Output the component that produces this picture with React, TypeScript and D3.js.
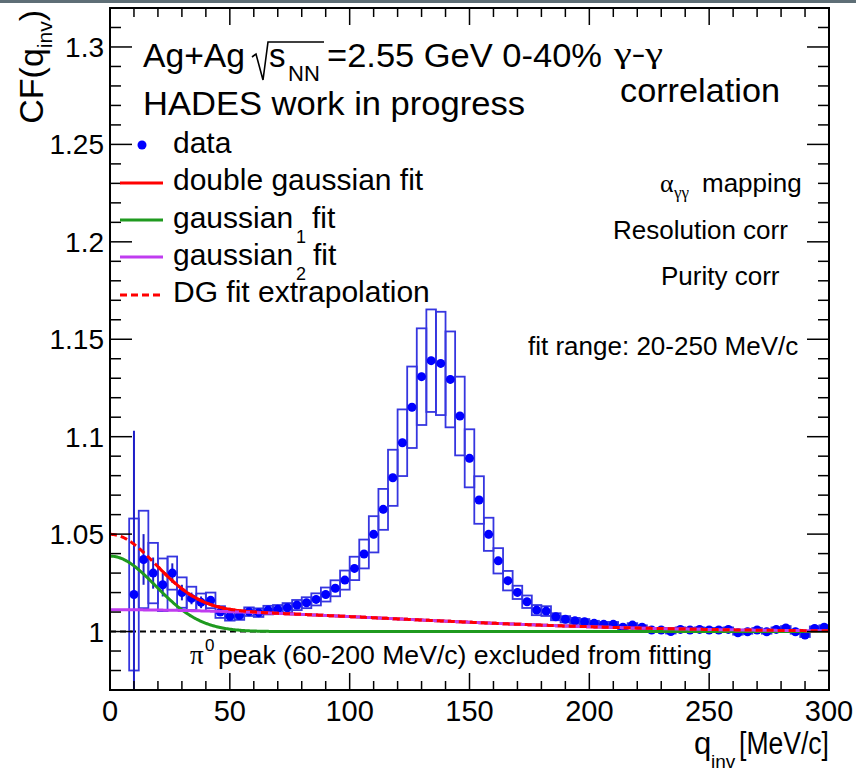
import React from 'react';
import * as d3 from 'd3';

// ---------- data ----------
const qBins = [
  10, 14, 18, 22, 26, 30, 34, 38, 42, 46,
  50, 54, 58, 62, 66, 70, 74, 78, 82, 86,
  90, 94, 98, 102, 106, 110, 114, 118, 122, 126,
  130, 134, 138, 142, 146, 150, 154, 158, 162, 166,
  170, 174, 178, 182, 186, 190, 194, 198, 202, 206,
  210, 214, 218, 222, 226, 230, 234, 238, 242, 246,
  250, 254, 258, 262, 266, 270, 274, 278, 282, 286,
  290, 294, 298,
];
const cfValues = [
  1.019, 1.037, 1.030, 1.024, 1.030, 1.020, 1.017, 1.015, 1.016, 1.010,
  1.0078, 1.0082, 1.0102, 1.0097, 1.011, 1.0114, 1.0122, 1.0136, 1.0148, 1.0165,
  1.019, 1.0222, 1.0264, 1.0324, 1.0398, 1.0499, 1.0627, 1.0789, 1.0969, 1.1151,
  1.1308, 1.139, 1.1376, 1.1294, 1.1106, 1.0889, 1.0675, 1.0499, 1.0363, 1.0261,
  1.0201, 1.0153, 1.011, 1.0105, 1.0076, 1.0063, 1.0055, 1.005, 1.0042, 1.0037,
  1.0037, 1.0022, 1.0033, 1.0022, 1.0008, 1.0008, 1.0, 1.0011, 1.0008, 1.0011,
  1.0008, 1.0008, 1.0011, 0.9994, 0.9999, 1.0008, 0.9999, 1.0011, 1.0018, 0.9999,
  0.9982, 1.0016, 1.0022,
];
const statErr = [
  0.084, 0.013, 0.008, 0.006, 0.005, 0.004, 0.003, 0.003, 0.002, 0.002,
  0.002, 0.002, 0.002, 0.002, 0.002, 0.002, 0.002, 0.002, 0.002, 0.002,
  0.002, 0.002, 0.002, 0.002, 0.002, 0.002, 0.002, 0.002, 0.002, 0.002,
  0.002, 0.002, 0.002, 0.002, 0.002, 0.002, 0.002, 0.002, 0.002, 0.002,
  0.002, 0.002, 0.002, 0.002, 0.002, 0.002, 0.002, 0.002, 0.002, 0.002,
  0.002, 0.002, 0.002, 0.002, 0.002, 0.002, 0.002, 0.002, 0.002, 0.002,
  0.002, 0.002, 0.002, 0.002, 0.002, 0.002, 0.002, 0.002, 0.002, 0.002,
  0.002, 0.002, 0.002,
];
const sysErr = [
  0.039, 0.025, 0.0155, 0.0135, 0.0085, 0.0078, 0.006, 0.0045, 0.004, 0.003,
  0.0022, 0.0022, 0.0022, 0.0022, 0.0022, 0.0022, 0.0024, 0.0026, 0.0028, 0.0031,
  0.0036, 0.0041, 0.0049, 0.006, 0.0074, 0.0093, 0.0105, 0.0144, 0.0171, 0.0209,
  0.0248, 0.0263, 0.0265, 0.0246, 0.0202, 0.0149, 0.0122, 0.0085, 0.0065, 0.005,
  0.0034, 0.0032, 0.0026, 0.0025, 0.0018, 0.0016, 0.0015, 0.0014, 0.0013, 0.0012,
  0.0012, 0.001, 0.001, 0.001, 0.001, 0.001, 0.001, 0.001, 0.001, 0.001,
  0.001, 0.001, 0.001, 0.001, 0.001, 0.001, 0.001, 0.001, 0.001, 0.001,
  0.001, 0.001, 0.001,
];
const binWidth = 4;

// fit parameters (double gaussian)
const gauss1Amp = 0.0387;
const gauss1Sigma = 19;
const gauss2Amp = 0.0112;
const gauss2Sigma = 115;
const fitRangeMin = 20;
const fitRangeMax = 250;

const xTicks = [0, 50, 100, 150, 200, 250, 300];
const xTickLabels = ['0', '50', '100', '150', '200', '250', '300'];
const yTicks = [1, 1.05, 1.1, 1.15, 1.2, 1.25, 1.3];
const yTickLabels = ['1', '1.05', '1.1', '1.15', '1.2', '1.25', '1.3'];

// ---------- layout ----------
const W = 856;
const H = 773;
const X0 = 110;
const X1 = 829;
const Y0 = 8;
const Y1 = 690;
const SANS = "'Liberation Sans', Arial, Helvetica, sans-serif";
const SERIF = "'Liberation Serif', 'DejaVu Serif', Times, serif";
const RED = '#ff0000';
const GREEN = '#1f9a1f';
const VIOLET = '#c03cf0';
const BLUE = '#0000ff';
const BOX = '#3636e0';

const g1 = (q: number) => gauss1Amp * Math.exp(-(q * q) / (2 * gauss1Sigma * gauss1Sigma));
const g2 = (q: number) => gauss2Amp * Math.exp(-(q * q) / (2 * gauss2Sigma * gauss2Sigma));

export default function App() {
  const x = d3.scaleLinear().domain([0, 300]).range([X0, X1]);
  const y = d3.scaleLinear().domain([0.97, 1.32]).range([Y1, Y0]);

  const qFine = d3.range(0, 300.01, 0.5);
  const line = d3
    .line<number>()
    .x((q) => x(q))
    .curve(d3.curveLinear);

  const dgPath = (lo: number, hi: number) =>
    line.y((q) => y(1 + g1(q) + g2(q)))(qFine.filter((q) => q >= lo && q <= hi)) || '';
  const g1Path = line.y((q) => y(1 + g1(q)))(qFine) || '';
  const g2Path = line.y((q) => y(1 + g2(q)))(qFine) || '';

  const xMinor = d3.range(0, 301, 10);
  const yMinor = d3.range(97, 133, 1).map((v) => v / 100);

  const points = qBins.map((q, i) => ({ q, v: cfValues[i], s: statErr[i], sy: sysErr[i] }));

  return (
    <svg
      width={W}
      height={H}
      style={{ position: 'absolute', left: 0, top: 0, display: 'block' }}
      fontFamily={SANS}
    >
      <rect x={0} y={0} width={W} height={H} fill="#ffffff" />
      <rect x={0} y={0} width={W} height={3} fill="#5e6e76" />
      <defs>
        <clipPath id="plotclip">
          <rect x={X0} y={Y0} width={X1 - X0} height={Y1 - Y0} />
        </clipPath>
      </defs>

      <g clipPath="url(#plotclip)">
        {/* reference line at 1 */}
        <line x1={x(0)} x2={x(300)} y1={y(1)} y2={y(1)} stroke="#000" strokeWidth={2} strokeDasharray="6 4" />

        {/* systematic boxes */}
        {points.map((p, i) => (
          <rect
            key={'b' + i}
            x={x(p.q - binWidth / 2)}
            y={y(p.v + p.sy)}
            width={x(p.q + binWidth / 2) - x(p.q - binWidth / 2)}
            height={y(p.v - p.sy) - y(p.v + p.sy)}
            fill="none"
            stroke={BOX}
            strokeWidth={1.8}
          />
        ))}
        {/* statistical error bars */}
        {points.map((p, i) => (
          <line
            key={'e' + i}
            x1={x(p.q)}
            x2={x(p.q)}
            y1={y(p.v + p.s)}
            y2={y(p.v - p.s)}
            stroke="#1e1ec8"
            strokeWidth={2}
          />
        ))}
        {/* markers */}
        {points.map((p, i) => (
          <circle key={'m' + i} cx={x(p.q)} cy={y(p.v)} r={4.5} fill={BLUE} />
        ))}

        {/* fits */}
        <path d={dgPath(fitRangeMin, fitRangeMax)} fill="none" stroke={RED} strokeWidth={3} />
        <path d={g1Path} fill="none" stroke={GREEN} strokeWidth={3} />
        <path d={g2Path} fill="none" stroke={VIOLET} strokeWidth={3} />
        <path d={dgPath(0, 300)} fill="none" stroke={RED} strokeWidth={3} strokeDasharray="7 4" />
      </g>

      {/* frame */}
      <rect x={X0} y={Y0} width={X1 - X0} height={Y1 - Y0} fill="none" stroke="#000" strokeWidth={2} />

      {/* x ticks (bottom + top) */}
      {xMinor.map((q) => {
        const major = q % 50 === 0;
        const len = major ? 17 : 9;
        return (
          <g key={'xt' + q}>
            <line x1={x(q)} x2={x(q)} y1={Y1} y2={Y1 - len} stroke="#000" strokeWidth={1.5} />
            <line x1={x(q)} x2={x(q)} y1={Y0} y2={Y0 + len} stroke="#000" strokeWidth={1.5} />
          </g>
        );
      })}
      {/* y ticks (left + right) */}
      {yMinor.map((v) => {
        const major = Math.round(v * 100) % 5 === 0;
        const len = major ? 22 : 11;
        return (
          <g key={'yt' + v}>
            <line x1={X0} x2={X0 + len} y1={y(v)} y2={y(v)} stroke="#000" strokeWidth={1.5} />
            <line x1={X1} x2={X1 - len} y1={y(v)} y2={y(v)} stroke="#000" strokeWidth={1.5} />
          </g>
        );
      })}

      {/* tick labels */}
      {xTicks.map((t, i) => (
        <text key={'xl' + t} x={x(t)} y={721} fontSize={29} textAnchor="middle" fill="#000">
          {xTickLabels[i]}
        </text>
      ))}
      {yTicks.map((t, i) => (
        <text key={'yl' + t} x={104} y={y(t) + 10} fontSize={28} textAnchor="end" fill="#000">
          {yTickLabels[i]}
        </text>
      ))}

      {/* axis titles */}
      <text x={694} y={754} fontSize={31} fill="#000">q</text>
      <text x={711} y={768} fontSize={19} fill="#000">inv</text>
      <text x={829} y={754} fontSize={31} textAnchor="end" textLength={90} lengthAdjust="spacingAndGlyphs" fill="#000">
        [MeV/c]
      </text>
      <text transform="translate(43,10) rotate(-90)" fontSize={34} textAnchor="end" fill="#000">
        CF(q
        <tspan fontSize={21} dy={9}>inv</tspan>
        <tspan dy={-9}>)</tspan>
      </text>

      {/* header */}
      <text x={143} y={67} fontSize={33} textLength={102} lengthAdjust="spacingAndGlyphs">Ag+Ag</text>
      <path d="M 252 57 L 256 54 L 263 80 L 268 42 L 324 42" fill="none" stroke="#000" strokeWidth={1.6} />
      <text x={269} y={67} fontSize={33}>s</text>
      <text x={288} y={81} fontSize={22}>NN</text>
      <text x={327} y={67} fontSize={33} textLength={275} lengthAdjust="spacingAndGlyphs">=2.55 GeV 0-40%</text>
      <text x={614} y={63} fontSize={30} fontFamily={SERIF} textLength={49} lengthAdjust="spacingAndGlyphs">γ-γ</text>
      <text x={620} y={102} fontSize={33} textLength={160} lengthAdjust="spacingAndGlyphs">correlation</text>
      <text x={143} y={115} fontSize={33} textLength={382} lengthAdjust="spacingAndGlyphs">HADES work in progress</text>

      {/* right annotations */}
      <text x={660} y={192} fontSize={26} fontFamily={SERIF}>α</text>
      <text x={674} y={198} fontSize={17} fontFamily={SERIF}>γγ</text>
      <text x={702} y={192} fontSize={26}>mapping</text>
      <text x={613} y={239} fontSize={26}>Resolution corr</text>
      <text x={661} y={285} fontSize={26}>Purity corr</text>
      <text x={528} y={355} fontSize={26}>fit range: 20-250 MeV/c</text>

      {/* legend */}
      <circle cx={142} cy={145} r={4.5} fill={BLUE} />
      <text x={173} y={153} fontSize={30}>data</text>
      <line x1={120} x2={163} y1={183} y2={183} stroke={RED} strokeWidth={3} />
      <text x={173} y={190} fontSize={30}>double gaussian fit</text>
      <line x1={120} x2={163} y1={220} y2={220} stroke={GREEN} strokeWidth={3} />
      <text x={173} y={228} fontSize={30}>gaussian</text>
      <text x={296} y={243} fontSize={18}>1</text>
      <text x={312} y={228} fontSize={30}>fit</text>
      <line x1={120} x2={163} y1={257} y2={257} stroke={VIOLET} strokeWidth={3} />
      <text x={173} y={265} fontSize={30}>gaussian</text>
      <text x={296} y={280} fontSize={18}>2</text>
      <text x={313} y={265} fontSize={30}>fit</text>
      <line x1={120} x2={163} y1={295} y2={295} stroke={RED} strokeWidth={3} strokeDasharray="7 4" />
      <text x={173} y={302} fontSize={30}>DG fit extrapolation</text>

      {/* bottom note */}
      <text x={190} y={664} fontSize={27} fontFamily={SERIF}>π</text>
      <text x={205} y={651} fontSize={17}>0</text>
      <text x={218} y={664} fontSize={26} textLength={494} lengthAdjust="spacingAndGlyphs">
        peak (60-200 MeV/c) excluded from fitting
      </text>
    </svg>
  );
}
